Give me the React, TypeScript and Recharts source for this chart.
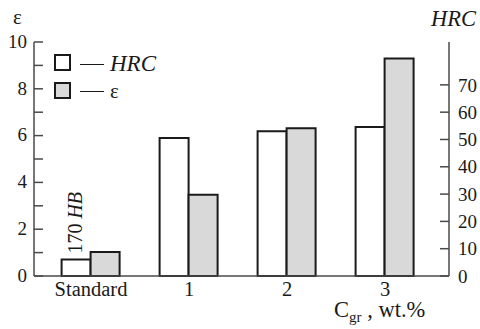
import { Bar, BarChart, XAxis, YAxis } from "recharts";

const categories = ["Standard", "1", "2", "3"];
const hrcValues = [6, 50.5, 53, 54.6];
const epsValues = [1.03, 3.47, 6.31, 9.3];
const leftTicks = [0, 1, 2, 3, 4, 5, 6, 7, 8, 9, 10];
const rightTicks = [0, 10, 20, 30, 40, 50, 60, 70];

const data = categories.map((c, i) => ({
  name: c,
  hrc: hrcValues[i],
  eps: epsValues[i],
}));

const FONT = "Liberation Serif";
const INK = "#1a1a1a";
const AXIS = "#4a4a4a";
const GRAY = "#d9d9d9";

function LeftTick({ x, y, payload }: any) {
  return (
    <g>
      <line x1={x} x2={x + 9} y1={y} y2={y} stroke={AXIS} strokeWidth={1.5} />
      {payload.value % 2 === 0 && (
        <text
          x={x - 7}
          y={y}
          dy="0.3em"
          textAnchor="end"
          fontSize={19}
          fontFamily={FONT}
          fill={INK}
        >
          {payload.value}
        </text>
      )}
    </g>
  );
}

function RightTick({ x, y, payload }: any) {
  return (
    <g>
      <line x1={x - 9} x2={x} y1={y} y2={y} stroke={AXIS} strokeWidth={1.5} />
      <text
        x={x + 9}
        y={y}
        dy="0.35em"
        textAnchor="start"
        fontSize={19}
        fontFamily={FONT}
        fill={INK}
      >
        {payload.value}
      </text>
    </g>
  );
}

function HbLabel(props: any) {
  const { x, y, width, index } = props;
  if (index !== 0) return null;
  const tx = x + width / 2 + 6;
  const ty = y - 6;
  return (
    <text
      x={tx}
      y={ty}
      transform={`rotate(-90, ${tx}, ${ty})`}
      fontSize={20}
      fontFamily={FONT}
      fill={INK}
    >
      170 <tspan fontStyle="italic">HB</tspan>
    </text>
  );
}

const text = (extra: any) => ({
  position: "absolute" as const,
  fontFamily: FONT,
  fontSize: 23,
  color: INK,
  lineHeight: 1,
  whiteSpace: "nowrap" as const,
  ...extra,
});

export default function App() {
  return (
    <div style={{ position: "absolute", left: 0, top: 0, width: 480, height: 329, background: "#fff", fontFamily: FONT }}>
      <BarChart
        width={480}
        height={329}
        data={data}
        margin={{ top: 42, right: 0, left: 0, bottom: 23 }}
        barGap={0}
        barCategoryGap="20%"
      >
        <XAxis
          dataKey="name"
          padding={{ left: 8, right: 15 }}
          tickLine={false}
          tickSize={0}
          tickMargin={5}
          height={30}
          axisLine={{ stroke: AXIS, strokeWidth: 1.5 }}
          tick={{ fill: INK, fontSize: 20.5, fontFamily: FONT }}
        />
        <XAxis
          xAxisId="top"
          dataKey="name"
          orientation="top"
          height={0}
          tick={false}
          tickLine={false}
          axisLine={{ stroke: AXIS, strokeWidth: 1.5 }}
        />
        <YAxis
          yAxisId="left"
          orientation="left"
          width={34}
          domain={[0, 10]}
          ticks={leftTicks}
          interval={0}
          tickSize={0}
          tickMargin={0}
          tickLine={false}
          axisLine={{ stroke: AXIS, strokeWidth: 1.5 }}
          tick={<LeftTick />}
        />
        <YAxis
          yAxisId="right"
          orientation="right"
          width={31}
          domain={[0, 85.7]}
          ticks={rightTicks}
          interval={0}
          tickSize={0}
          tickMargin={0}
          tickLine={false}
          axisLine={{ stroke: AXIS, strokeWidth: 1.5 }}
          tick={<RightTick />}
        />
        <Bar
          dataKey="hrc"
          yAxisId="right"
          fill="#fff"
          stroke={INK}
          strokeWidth={2}
          isAnimationActive={false}
          label={<HbLabel />}
        />
        <Bar
          dataKey="eps"
          yAxisId="left"
          fill={GRAY}
          stroke={INK}
          strokeWidth={2}
          isAnimationActive={false}
        />
      </BarChart>

      {/* axis titles */}
      <div style={text({ left: 13, top: 7, fontSize: 21 })}>ε</div>
      <div style={text({ left: 431, top: 8, fontStyle: "italic", fontSize: 22.5 })}>HRC</div>
      <div style={text({ left: 334, top: 299, fontSize: 22.5 })}>
        C<span style={{ fontSize: 15, verticalAlign: "-5px" }}>gr</span> , wt.%
      </div>

      {/* legend */}
      <div style={{ position: "absolute", left: 54, top: 54, width: 13, height: 13, border: `2px solid ${INK}`, background: "#fff" }} />
      <div style={{ position: "absolute", left: 80, top: 64, width: 24, height: 1, background: INK }} />
      <div style={text({ left: 110, top: 52, fontStyle: "italic" })}>HRC</div>
      <div style={{ position: "absolute", left: 54, top: 82, width: 13, height: 13, border: `2px solid ${INK}`, background: GRAY }} />
      <div style={{ position: "absolute", left: 80, top: 91, width: 24, height: 1, background: INK }} />
      <div style={text({ left: 110, top: 81, fontSize: 21 })}>ε</div>
    </div>
  );
}
